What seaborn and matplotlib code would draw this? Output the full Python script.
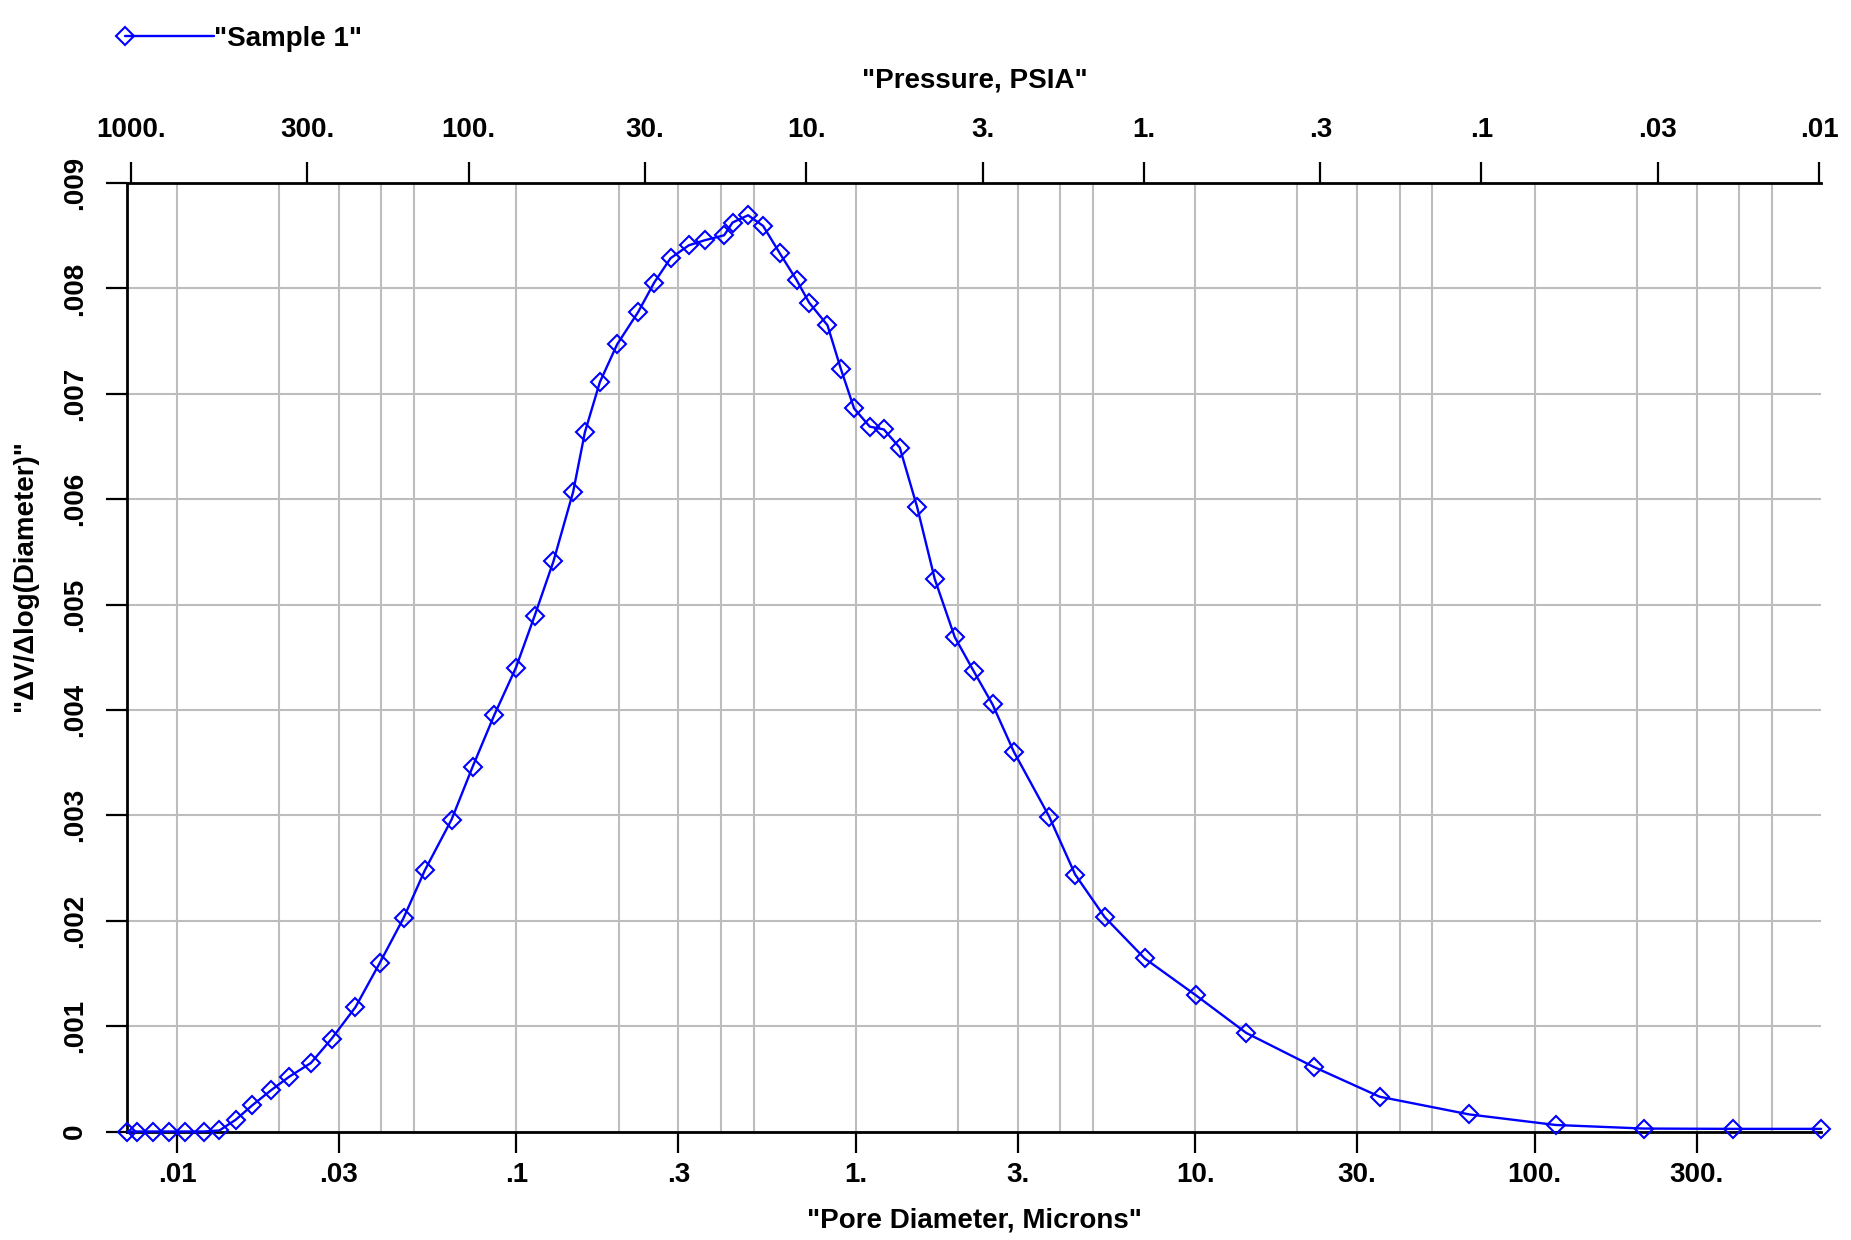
import numpy as np
import pandas as pd
import matplotlib
matplotlib.use("Agg")
import matplotlib.pyplot as plt
import seaborn as sns
from matplotlib.legend_handler import HandlerLine2D

# pore size distribution
pore_diameter_um = [
    0.00715, 0.00763, 0.00850, 0.00947, 0.01056, 0.01201, 0.01334,
    0.01489, 0.01669, 0.01891, 0.02142, 0.02481, 0.02855, 0.03357,
    0.03952, 0.04651, 0.05377, 0.06443, 0.07430, 0.08603, 0.09966,
    0.1132, 0.1286, 0.1470, 0.1592, 0.1762, 0.1981, 0.2285, 0.2547,
    0.2846, 0.3222, 0.3591, 0.4094, 0.4334, 0.4817,
    0.5333, 0.5972, 0.6689, 0.7286, 0.8253, 0.9032, 0.9886, 1.0995,
    1.2089, 1.348,
    1.516, 1.709, 1.957, 2.226, 2.529, 2.921, 3.715, 4.429, 5.412,
    7.099, 10.03, 14.14, 22.34, 34.95, 64.2, 115.3, 209.5, 383.0, 698.0,
]
dv_dlogd = [
    0, 0, 0, 0, 0, 0, 0.00001,
    0.000111, 0.00025, 0.00039, 0.00052, 0.00065, 0.00088, 0.00118,
    0.001595, 0.002025, 0.00248, 0.00296, 0.00346, 0.00395, 0.00440,
    0.004894, 0.00541, 0.00607, 0.006636, 0.007111, 0.007469, 0.007776,
    0.008055, 0.008286, 0.008409, 0.008457, 0.008504, 0.008625, 0.008694,
    0.008593, 0.008333, 0.008080, 0.007865, 0.007650, 0.007238, 0.006861,
    0.006688, 0.006662, 0.006488,
    0.005925, 0.005241, 0.004691, 0.004367, 0.004052, 0.003604, 0.002987,
    0.002438, 0.002034, 0.001642, 0.001294, 0.000935, 0.000613, 0.000330,
    0.000162, 0.000062, 0.000028, 0.000025, 0.000025,
]

diameter_ticks = [0.01, 0.03, 0.1, 0.3, 1, 3, 10, 30, 100, 300]
diameter_labels = [".01", ".03", ".1", ".3", "1.", "3.", "10.", "30.", "100.", "300."]
diameter_grid = [0.02, 0.04, 0.05, 0.2, 0.4, 0.5, 2, 4, 5, 20, 40, 50, 200, 400, 500]
pressure_ticks = [1000, 300, 100, 30, 10, 3, 1, 0.3, 0.1, 0.03, 0.01]
pressure_labels = ["1000.", "300.", "100.", "30.", "10.", "3.", "1.", ".3", ".1", ".03", ".01"]
y_ticks = [0, 0.001, 0.002, 0.003, 0.004, 0.005, 0.006, 0.007, 0.008, 0.009]
y_labels = ["0", ".001", ".002", ".003", ".004", ".005", ".006", ".007", ".008", ".009"]

df = pd.DataFrame({"diameter": pore_diameter_um, "dv": dv_dlogd})

sns.set_style("white")
FONT = ["Liberation Sans Narrow", "Liberation Sans", "DejaVu Sans"]
plt.rcParams["font.family"] = FONT
plt.rcParams["font.weight"] = "bold"
plt.rcParams["axes.labelweight"] = "bold"
plt.rcParams["text.color"] = "black"
plt.rcParams["axes.labelcolor"] = "black"

FS = 20
TICK_LEN = 15
GRID_C = "#bdbdbd"


class StartMarkerHandler(HandlerLine2D):
    # legend symbol: line with a single marker at its left end
    def create_artists(self, legend, orig_handle, xdescent, ydescent,
                       width, height, fontsize, trans):
        artists = super().create_artists(legend, orig_handle, xdescent, ydescent,
                                         width, height, fontsize, trans)
        for a in artists:
            a.set_markevery([0])
        return artists


fig = plt.figure(figsize=(18.51, 12.40), dpi=100)
ax = fig.add_axes([0.06888, 0.08750, 0.91518, 0.76492])

ax.set_xscale("log")
sns.lineplot(data=df, x="diameter", y="dv", ax=ax, color="blue",
             linewidth=1.7, marker="D", markersize=9.5,
             markerfacecolor="none", markeredgecolor="blue",
             markeredgewidth=1.5, legend=False, zorder=6, clip_on=False)
line = ax.lines[0]

ax.set_xlim(0.00715, 700)
ax.set_ylim(0, 0.009)

ax.set_xticks(diameter_ticks)
ax.set_xticklabels(diameter_labels)
ax.set_xticks(diameter_grid, minor=True)
ax.set_yticks(y_ticks)
ax.set_yticklabels(y_labels, rotation=90, va="center")

ax.grid(True, which="both", color=GRID_C, linewidth=1.5)
ax.set_axisbelow(True)
ax.tick_params(axis="x", which="major", direction="out", length=TICK_LEN,
               width=1.6, pad=7, labelsize=FS, colors="black", bottom=True)
ax.tick_params(axis="x", which="minor", length=0)
ax.tick_params(axis="y", which="major", direction="out", length=TICK_LEN,
               width=1.6, pad=13.5, labelsize=FS, colors="black", left=True)

for side in ["left", "bottom", "top"]:
    ax.spines[side].set_color("black")
    ax.spines[side].set_linewidth(2)
ax.spines["right"].set_visible(False)

ax.set_xlabel('"Pore Diameter, Microns"', fontsize=FS, fontweight="bold", labelpad=14)
ax.set_ylabel('"ΔV/Δlog(Diameter)"', fontsize=FS, fontweight="bold")
ax.yaxis.set_label_coords(-0.0528, 0.586)

# pressure scale on top
ax2 = ax.twiny()
ax2.set_xscale("log")
ax2.set_xlim(1024, 0.00983)
ax2.set_xticks(pressure_ticks)
ax2.set_xticklabels(pressure_labels)
ax2.xaxis.set_minor_locator(matplotlib.ticker.NullLocator())
ax2.tick_params(axis="x", which="major", direction="out", length=TICK_LEN,
                width=1.6, pad=14, labelsize=FS, colors="black", top=True)
for side in ax2.spines:
    ax2.spines[side].set_visible(False)
ax2.set_xlabel('"Pressure, PSIA"', fontsize=FS, fontweight="bold", labelpad=21)
ax2.grid(False)

fig.legend([line], ['"Sample 1"'], loc="center left",
           bbox_to_anchor=(117 / 1851, 1 - 39 / 1240), frameon=False,
           borderpad=0, borderaxespad=0, handlelength=3.8,
           handletextpad=-0.3, fontsize=FS,
           handler_map={line: StartMarkerHandler(numpoints=2)})

fig.savefig("out.png", dpi=100)
